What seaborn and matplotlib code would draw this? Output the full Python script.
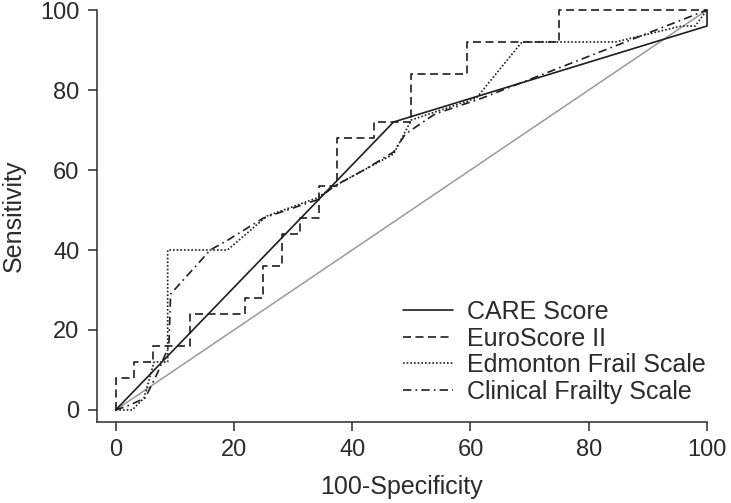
import pandas as pd
import matplotlib.pyplot as plt
import seaborn as sns

# ROC curve vertices (100-specificity, sensitivity)
care_x = [0, 47, 100, 100]
care_y = [0, 72, 96, 100]

euro_x = [0, 0, 3.125, 3.125, 6.25, 6.25, 12.5, 12.5, 21.875, 21.875, 25, 25,
          28.125, 28.125, 31.25, 31.25, 34.375, 34.375, 37.5, 37.5, 43.75, 43.75,
          50, 50, 59.375, 59.375, 75, 75, 100]
euro_y = [0, 8, 8, 12, 12, 16, 16, 24, 24, 28, 28, 36,
          36, 44, 44, 48, 48, 56, 56, 68, 68, 72,
          72, 84, 84, 92, 92, 100, 100]

edm_x = [0, 2.8, 4.8, 6.5, 8.8, 8.8, 18.9, 25.6, 34, 37, 47, 50, 61, 68.7, 84.5, 95.7, 98, 100]
edm_y = [0, 0, 3, 12, 12, 40, 40, 48.5, 53, 56, 64, 72.5, 78, 92, 92, 96, 96, 100]

cfs_x = [0, 2, 5, 7, 9, 9.3, 16, 19, 25, 29, 34, 37, 42, 47, 49, 54, 62, 100]
cfs_y = [0, 1, 3, 9, 16, 29, 40, 42.5, 48, 50, 52.5, 56, 60, 64.5, 69, 74, 78, 100]

ref_x = [0, 100]
ref_y = [0, 100]

names = ['CARE Score', 'EuroScore II', 'Edmonton Frail Scale', 'Clinical Frailty Scale']
series_x = [care_x, euro_x, edm_x, cfs_x]
series_y = [care_y, euro_y, edm_y, cfs_y]
styles = ['-', (0, (4.8, 2.7)), (0, (1.0, 1.2)), (0, (5, 2.5, 1, 2.5))]

sns.set_style('ticks')
plt.rcParams['font.family'] = ['Liberation Sans', 'DejaVu Sans']
txt = '#2b2b2b'

fig = plt.figure(figsize=(7.31, 5.03), dpi=100)
ax = fig.add_axes([0.1323, 0.1616, 0.9672 - 0.1323, 0.9801 - 0.1616])

sns.lineplot(x=ref_x, y=ref_y, color='#9a9a9a', linewidth=1.1, ax=ax,
             label='_nolegend_', clip_on=False)

for name, xs, ys, ls in zip(names, series_x, series_y, styles):
    df = pd.DataFrame({'x': xs, 'y': ys})
    sns.lineplot(data=df, x='x', y='y', sort=False, estimator=None, ax=ax,
                 color='#1e1e1e', linewidth=1.2, linestyle=ls, label=name,
                 clip_on=False)

ax.set_xlim(-3.2, 100)
ax.set_ylim(-2.93, 100)
ax.set_xticks([0, 20, 40, 60, 80, 100])
ax.set_yticks([0, 20, 40, 60, 80, 100])
for s in ['top', 'right']:
    ax.spines[s].set_visible(False)
for s in ['left', 'bottom']:
    ax.spines[s].set_color(txt)
    ax.spines[s].set_linewidth(1.1)
ax.tick_params(axis='both', length=6.5, width=1.1, color=txt, labelcolor=txt,
               labelsize=17, pad=6)

ax.set_xlabel('100-Specificity', fontsize=18, color=txt, labelpad=10)
ax.set_ylabel('Sensitivity', fontsize=18, color=txt, labelpad=10)

ax.legend(loc='upper left', bbox_to_anchor=(403 / 731, 1 - 300 / 503),
          bbox_transform=fig.transFigure, frameon=False, fontsize=18,
          handlelength=2.0, handletextpad=0.55, labelspacing=0.1, borderpad=0,
          borderaxespad=0, labelcolor=txt)

plt.savefig('out.png', dpi=100)
